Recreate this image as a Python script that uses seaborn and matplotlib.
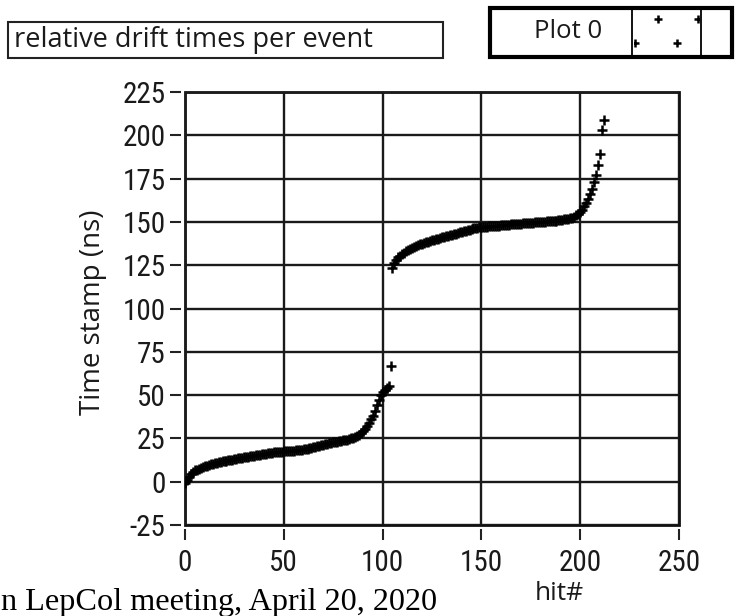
import numpy as np
import pandas as pd
import matplotlib
matplotlib.use("Agg")
import matplotlib.pyplot as plt
import seaborn as sns
from matplotlib.patches import Rectangle

# sorted relative drift times, two events back to back
time_event1 = [
    -1.0, 1.0, 3.0, 4.5, 5.5, 6.5, 7.0, 7.5, 8.0, 8.5,
    9.0, 9.3, 9.6, 10.0, 10.3, 10.6, 11.0, 11.2, 11.5, 11.7,
    12.0, 12.2, 12.4, 12.6, 12.8, 13.0, 13.2, 13.4, 13.6, 13.8,
    14.0, 14.2, 14.4, 14.6, 14.8, 15.0, 15.2, 15.4, 15.6, 15.8,
    16.0, 16.2, 16.4, 16.6, 16.8, 17.0, 17.1, 17.2, 17.3, 17.4,
    17.5, 17.6, 17.7, 17.8, 17.9, 18.0, 18.1, 18.2, 18.3, 18.5,
    18.7, 18.9, 19.1, 19.3, 19.5, 19.8, 20.1, 20.4, 20.7, 21.0,
    21.3, 21.6, 21.9, 22.2, 22.5, 22.8, 23.0, 23.2, 23.4, 23.6,
    23.8, 24.0, 24.3, 24.6, 25.0, 25.4, 25.8, 26.3, 27.0, 28.0,
    29.0, 30.5, 32.0, 34.0, 36.0, 38.0, 41.0, 44.0, 47.0, 50.0,
    52.0, 53.0, 54.0, 55.0, 67.0,
]
time_event2 = [
    123.5, 126.0, 128.0, 129.5, 130.5, 131.5, 132.3, 133.0, 133.7, 134.3,
    135.0, 135.5, 136.0, 136.5, 137.0, 137.4, 137.8, 138.2, 138.6, 139.0,
    139.3, 139.6, 140.0, 140.3, 140.6, 141.0, 141.3, 141.6, 142.0, 142.3,
    142.6, 143.0, 143.3, 143.6, 144.0, 144.3, 144.6, 145.0, 145.3, 145.6,
    146.0, 146.2, 146.4, 146.6, 146.8, 147.0, 147.1, 147.2, 147.3, 147.4,
    147.5, 147.6, 147.7, 147.8, 147.9, 148.0, 148.1, 148.2, 148.3, 148.4,
    148.5, 148.6, 148.7, 148.8, 148.9, 149.0, 149.1, 149.2, 149.3, 149.4,
    149.5, 149.6, 149.7, 149.8, 149.9, 150.0, 150.1, 150.2, 150.3, 150.4,
    150.5, 150.6, 150.7, 150.8, 150.9, 151.0, 151.2, 151.4, 151.6, 151.8,
    152.0, 152.5, 153.0, 153.8, 154.6, 155.5, 157.0, 159.0, 161.0, 163.5,
    166.0, 169.0, 173.0, 177.0, 183.0, 189.0, 203.0, 209.0,
]
x_ticks = [0, 50, 100, 150, 200, 250]
y_ticks = [-25, 0, 25, 50, 75, 100, 125, 150, 175, 200, 225]

times = time_event1 + time_event2
hits = np.arange(len(times))
df = pd.DataFrame({"hit#": hits, "Time stamp (ns)": times})

sns.set_theme(style="white")
plt.rcParams["font.family"] = ["Roboto Condensed", "Liberation Sans Narrow", "DejaVu Sans"]
plt.rcParams["font.stretch"] = "condensed"
plt.rcParams["axes.unicode_minus"] = False

W, H = 736, 616
fig = plt.figure(figsize=(W / 100, H / 100), dpi=100)
fig.patch.set_facecolor("white")


def fx(x):
    return x / W


def fy(y):
    return 1 - y / H


ax = fig.add_axes([fx(185), fy(525), (679 - 185) / W, (525 - 92) / H])
sns.scatterplot(data=df, x="hit#", y="Time stamp (ns)", marker="+", s=45,
                color="black", linewidth=1.8, ax=ax, legend=False, zorder=3)

ax.set_xlim(0, 250)
ax.set_ylim(-25, 225)
ax.set_xticks(x_ticks)
ax.set_yticks(y_ticks)
ax.set_xlabel("")
ax.set_ylabel("")
ax.grid(True, color="#1a1a1a", linewidth=1.7)
ax.set_axisbelow(True)

# frame drawn by the axes patch, ticks sit a few pixels away from it
ax.patch.set_edgecolor("#111111")
ax.patch.set_linewidth(2.0)
for name, sp in ax.spines.items():
    sp.set_color("none")
ax.spines["left"].set_position(("outward", 3))
ax.spines["bottom"].set_position(("outward", 3))
ax.tick_params(axis="both", direction="out", length=8, width=1.5,
               color="#222222", labelsize=21, labelcolor="#1a1a1a",
               left=True, bottom=True)
ax.tick_params(axis="y", pad=3)
ax.tick_params(axis="x", pad=6)

sans = ["Open Sans", "DejaVu Sans"]

# axis titles
fig.text(fx(93), fy(312), "Time stamp (ns)", rotation=90, ha="center",
         va="center", fontsize=20, color="#1a1a1a", family=sans,
         stretch="normal")
fig.text(fx(559), fy(593), "hit#", ha="center", va="center", fontsize=19,
         color="#1a1a1a", family=sans, stretch="normal")

# caption box
fig.patches.append(Rectangle((fx(8), fy(58)), (443 - 8) / W, (58 - 22) / H,
                             transform=fig.transFigure, facecolor="white",
                             edgecolor="#222222", linewidth=1.5))
fig.text(fx(14), fy(40), "relative drift times per event", ha="left", va="center",
         fontsize=19.5, color="#1a1a1a", family=sans, stretch="normal")

# plot legend box
fig.patches.append(Rectangle((fx(490), fy(57)), (732 - 490) / W, (57 - 8) / H,
                             transform=fig.transFigure, facecolor="white",
                             edgecolor="black", linewidth=3.0, zorder=2))
for xs in (632, 701):
    fig.lines.append(plt.Line2D([fx(xs), fx(xs)], [fy(57), fy(8)],
                                transform=fig.transFigure, color="black",
                                linewidth=1.3, zorder=3))
fig.text(fx(568), fy(31), "Plot 0", ha="center", va="center", fontsize=18.5,
         color="#1a1a1a", family=sans, stretch="normal")
lax = fig.add_axes([fx(634), fy(56), (699 - 634) / W, (56 - 9) / H])
lax.set_zorder(5)
lax.set_xlim(0, 65)
lax.set_ylim(47, 0)
lax.axis("off")
lax.scatter([24, 64, 1, 43], [10, 10, 34, 34], marker="+", s=40,
            color="black", linewidths=1.8, clip_on=True)

# footer line of the slide
fig.text(fx(1), fy(610), "n LepCol meeting, April 20, 2020", ha="left",
         va="baseline", fontsize=23.2, color="black",
         family=["Liberation Serif", "DejaVu Serif"], stretch="normal")

fig.savefig("out.png", dpi=100)
